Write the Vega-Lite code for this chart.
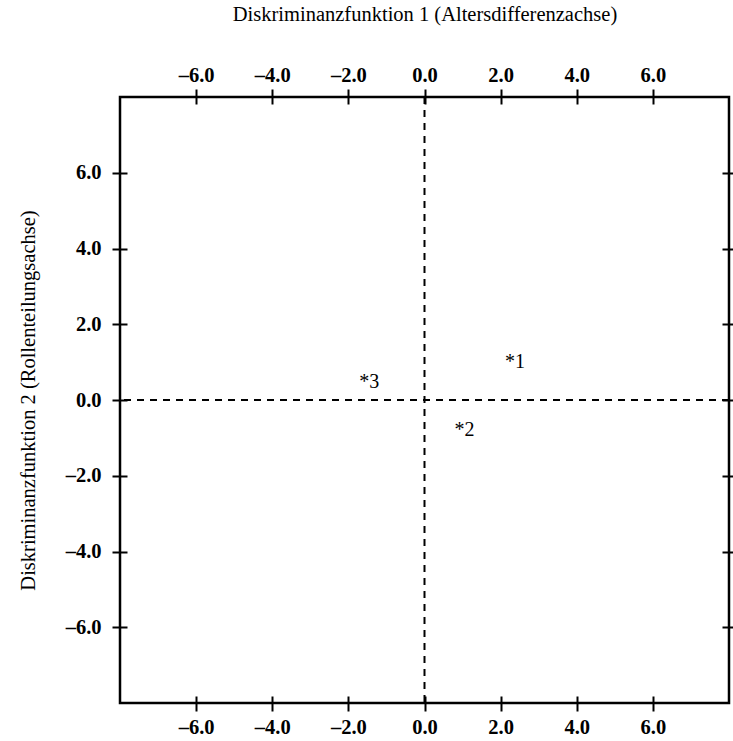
{
  "$schema": "https://vega.github.io/schema/vega-lite/v6.json",
  "width": 609,
  "height": 606,
  "autosize": {"type": "none"},
  "padding": {"left": 120, "top": 97, "right": 4, "bottom": 38},
  "background": "white",
  "datasets": {
    "origin": [{"value": 0}],
    "centroids": [
      {"gruppe": "1", "label": "*1", "df1": 2.38, "df2": 1.0},
      {"gruppe": "2", "label": "*2", "df1": 1.05, "df2": -0.8},
      {"gruppe": "3", "label": "*3", "df1": -1.45, "df2": 0.47}
    ]
  },
  "layer": [
    {
      "data": {"name": "origin"},
      "mark": {"type": "rule", "color": "black", "strokeWidth": 2, "strokeDash": [7, 6]},
      "encoding": {
        "x": {
          "field": "value",
          "type": "quantitative",
          "scale": {"domain": [-8, 8], "nice": false, "zero": false},
          "axis": {"orient": "bottom", "title": null, "values": [-6, -4, -2, 0, 2, 4, 6], "labelPadding": 6}
        }
      }
    },
    {
      "data": {"name": "origin"},
      "mark": {"type": "rule", "color": "black", "strokeWidth": 2, "strokeDash": [7, 6]},
      "encoding": {
        "y": {
          "field": "value",
          "type": "quantitative",
          "scale": {"domain": [-8, 8], "nice": false, "zero": false},
          "axis": {
            "orient": "left",
            "title": "Diskriminanzfunktion 2 (Rollenteilungsachse)",
            "values": [-6, -4, -2, 0, 2, 4, 6],
            "labelPadding": 11,
            "titlePadding": 27
          }
        }
      }
    },
    {
      "data": {"name": "centroids"},
      "mark": {"type": "text", "font": "Liberation Serif", "fontSize": 20, "color": "black", "align": "center", "baseline": "middle"},
      "encoding": {
        "x": {
          "field": "df1",
          "type": "quantitative",
          "scale": {"domain": [-8, 8], "nice": false, "zero": false},
          "axis": {
            "orient": "top",
            "title": "Diskriminanzfunktion 1 (Altersdifferenzachse)",
            "values": [-6, -4, -2, 0, 2, 4, 6],
            "labelPadding": 4,
            "titlePadding": 41
          }
        },
        "y": {
          "field": "df2",
          "type": "quantitative",
          "scale": {"domain": [-8, 8], "nice": false, "zero": false},
          "axis": {"orient": "right", "title": null, "labels": false, "values": [-6, -4, -2, 0, 2, 4, 6]}
        },
        "text": {"field": "label", "type": "nominal"}
      }
    }
  ],
  "resolve": {"axis": {"x": "independent", "y": "independent"}},
  "config": {
    "view": {"stroke": "black", "strokeWidth": 2.5, "fill": "white"},
    "axis": {
      "domain": false,
      "grid": false,
      "ticks": true,
      "tickColor": "black",
      "tickWidth": 2,
      "tickSize": 15,
      "offset": -7,
      "labelFont": "Liberation Serif",
      "labelFontSize": 20.5,
      "labelFontWeight": "bold",
      "labelColor": "black",
      "labelExpr": "(datum.value < 0 ? '–' : '') + format(abs(datum.value), '.1f')",
      "titleFont": "Liberation Serif",
      "titleFontSize": 20.5,
      "titleFontWeight": "normal",
      "titleColor": "black"
    }
  }
}
